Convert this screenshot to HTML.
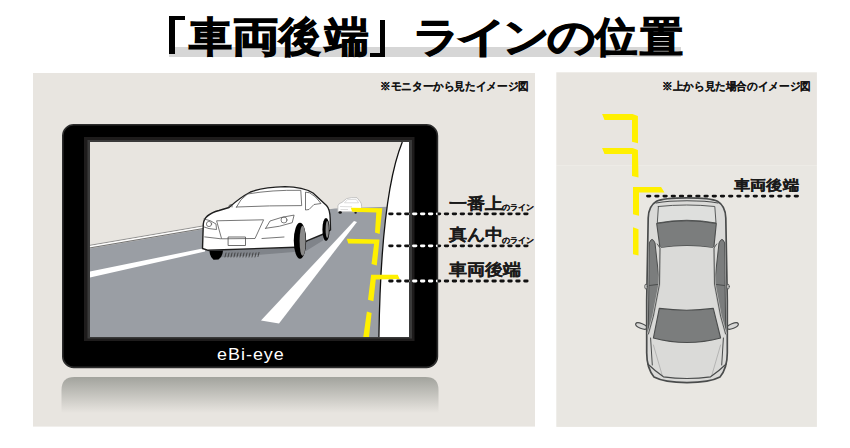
<!DOCTYPE html>
<html><head><meta charset="utf-8">
<style>
html,body{margin:0;padding:0;background:#fff;}
body{width:850px;height:448px;position:relative;overflow:hidden;font-family:"Liberation Sans",sans-serif;}
.t{position:absolute;white-space:nowrap;line-height:1;}
.tc{position:absolute;top:16.8px;font-size:41px;line-height:1;font-weight:bold;color:#000;-webkit-text-stroke:1.1px #000;transform-origin:0 0;white-space:nowrap;}
.bk{position:absolute;background:#000;}
#hl{position:absolute;left:169px;top:47px;width:512px;height:10px;background:#d6d6d6;}
.note{font-size:10.6px;font-weight:bold;color:#111;-webkit-text-stroke:0.05px #111;transform:scaleX(0.967);transform-origin:0 0;}
.lab{font-size:16px;font-weight:bold;color:#1a1a1a;-webkit-text-stroke:0.1px #1a1a1a;transform:scaleX(1.13);transform-origin:0 0;}
.lab2{font-size:14px;font-weight:bold;color:#1a1a1a;-webkit-text-stroke:0.2px #1a1a1a;transform:scaleX(1.155);transform-origin:0 0;}
.logo{font-size:16px;color:#fff;letter-spacing:0.9px;transform:scaleX(1.12);transform-origin:0 0;}
.sm{font-size:7.7px;font-weight:bold;color:#1a1a1a;-webkit-text-stroke:0.2px #1a1a1a;}
svg{position:absolute;left:0;top:0;}
</style></head><body>
<div id="hl"></div>
<div class="bk" style="left:169px;top:16.4px;width:6px;height:37.4px"></div>
<div class="bk" style="left:169px;top:16.4px;width:16px;height:4px"></div>
<div class="bk" style="left:379.7px;top:19.9px;width:5.8px;height:37px"></div>
<div class="bk" style="left:370.2px;top:52.6px;width:15.3px;height:4.4px"></div>
<div class="tc" style="left:189.4px;transform:scaleX(1.05)">車</div><div class="tc" style="left:231.8px;transform:scaleX(1.167)">両</div><div class="tc" style="left:278.8px;transform:scaleX(1.02)">後</div><div class="tc" style="left:325px;transform:scaleX(1.07)">端</div><div class="tc" style="left:412.9px;transform:scaleX(1.14)">ラ</div><div class="tc" style="left:456.1px;transform:scaleX(1.234)">イ</div><div class="tc" style="left:502.7px;transform:scaleX(1.118)">ン</div><div class="tc" style="left:546.5px;transform:scaleX(1.171)">の</div><div class="tc" style="left:594.8px;transform:scaleX(1.03)">位</div><div class="tc" style="left:639.8px;transform:scaleX(1.05)">置</div>
<svg width="850" height="448" viewBox="0 0 850 448">
<defs>
<linearGradient id="refl" x1="0" y1="0" x2="0" y2="1">
<stop offset="0" stop-color="#a2a39d"/>
<stop offset="1" stop-color="#e8e5e0"/>
</linearGradient>
</defs>
<rect x="33" y="73" width="502" height="353.6" fill="#e8e5e0"/>
<rect x="556.3" y="72.3" width="260.6" height="93.4" fill="#e8e5e0"/>
<rect x="556.3" y="165.7" width="260.6" height="261.2" fill="#e9e7e2"/>
<!-- reflection -->
<path d="M61.5,413 V390 Q61.5,377 74.5,377 H425.5 Q438.5,377 438.5,390 V413 Z" fill="url(#refl)"/>
<!-- monitor -->
<rect x="62.8" y="124.8" width="374.6" height="242.6" rx="11" fill="#000" stroke="#2c2c2c" stroke-width="1.6"/>
<rect x="84" y="137" width="330.5" height="204" fill="#1e1c1c"/>
<rect x="87.5" y="140" width="324.5" height="198.5" fill="#3a3a3a"/>
<rect x="90" y="142" width="319" height="195" fill="#e8e5e0"/>
<!-- road -->
<path d="M90,248.5 L201,229.5 Q290,214 335,208.5 L395,206.4 L409,206.4 V337 H90 Z" fill="#9a9ea4"/>
<path d="M90,245.3 L201,226.3 Q280,212.5 328,206.5" fill="none" stroke="#8a8a8a" stroke-width="0.9"/>
<path d="M90,246.6 L201,227.6 Q280,213.8 328,207.8" fill="none" stroke="#fff" stroke-width="1.1"/>
<path d="M90,247.9 L201,228.9 Q280,215.1 328,209.1" fill="none" stroke="#666" stroke-width="0.9"/>
<!-- lane lines -->
<path d="M90,271.5 L205,248 L205,251.5 L90,277.5 Z" fill="#fff"/>
<path d="M261,320.5 L279,323.5 L357,222 L354,221 Z" fill="#fff"/>
<!-- distant car -->
<g stroke-linejoin="round">
<path d="M337.8,211.8 L337.9,205.8 Q338.5,203.2 342,202.4 L346.5,198.6 Q351,197.2 357,197.7 L360.3,201.8 Q361.8,203.5 361.6,206.5 L361.4,211.8 Z" fill="#fff" stroke="#b8b8b8" stroke-width="0.8"/>
<path d="M344.5,202.8 L347.5,199.6 L356.2,199.4 L358.6,202.8 Z M340,206.5 L352,206.8 M340.5,209.5 H348" fill="none" stroke="#cfcfcf" stroke-width="0.7"/>
<ellipse cx="340.2" cy="212.5" rx="1.7" ry="1.3" fill="#111"/>
<ellipse cx="355.6" cy="212.8" rx="1.2" ry="1" fill="#222"/>
</g>
<!-- main car -->
<g stroke="#1e1e1e" stroke-linejoin="round" stroke-linecap="round">
<path d="M206,250 L296,246.5 L308,240.5 L323.5,234 L323,240.5 L306,251 L250,255.5 L218,257.5 Z" fill="#80848a" stroke="none"/>
<g stroke="#333" stroke-width="0.8">
<path d="M226,253 l-1,4 M229,253 l-1,4 M232,253 l-1,4 M235,253 l-1,4 M238,253 l-1,4 M241,253 l-1,4 M244,253 l-1,4 M247,253 l-1,4 M250,253 l-1,4 M253,253 l-1,4 M256,253 l-1,4 M259,252.5 l-1,4"/>
</g>
<path d="M209.5,251 L223,250.5 Q222.5,257 218.5,259.6 L213.5,259.7 Q210,257.5 209.5,251 Z" fill="#000" stroke="none"/>
<path d="M202.5,248.5 L203.3,224 Q204,214.5 219,210.5 L229,207.5 Q240,197.5 250.5,192 Q263,187.2 285,186.6 Q303,186.8 313,193 L326.5,205.5 Q330,209 330.2,219 L330.5,230 L323.5,234 L307.4,240.7 L295.5,247.3 L207.6,250.2 Z" fill="#fff" stroke-width="1.4"/>
<ellipse cx="326" cy="229.5" rx="3.6" ry="11.6" fill="#000" stroke="none"/>
<ellipse cx="327.2" cy="229.5" rx="1.6" ry="8.5" fill="#888" stroke="none"/>
<ellipse cx="300" cy="240.8" rx="6.2" ry="18" fill="#000" stroke="none"/>
<ellipse cx="302.6" cy="240.8" rx="3" ry="15" fill="#8a8a8a" stroke="none"/>
<g fill="none" stroke-width="0.75" stroke="#4a4a4a">
<path d="M236.5,207 Q240,199 247.5,194 Q272,189.8 300.8,190.3 L301.7,205.6 Q270,205.5 236.5,207 Z"/>
<path d="M305.5,192.5 L305.5,210 L309,209.5 L314,204.5 L321,203.5 Q316,196 310,193 Z"/>
<path d="M217,220.8 L263.6,219.8 L255,238.5 L222,238.8 Z" />
<path d="M228.5,237 h17 v8.5 h-17 Z" stroke-width="0.8"/>
<path d="M204,219 Q211,220 216,224 L216.5,229.5 Q208,229 204,227" />
<circle cx="209" cy="224" r="2.6" stroke-width="0.7"/>
<path d="M265.7,228.3 L270,221 Q282,216.5 294.1,215.1 L292.2,222.7 Q280,227 265.7,228.3 Z"/>
<circle cx="284" cy="220" r="3" stroke-width="0.7"/>
<path d="M204.7,236.9 L220.9,238.8 M262,238.5 L284,237"/>
<path d="M228.5,207 Q229,204 232,204.5 L232,207"/>
</g>
</g>
<!-- white side -->
<path d="M402.3,142 C388.9,174.9 380.4,236.2 378.9,337 H409 V142 Z" fill="#fff"/>
<path d="M402.3,142 C388.9,174.9 380.4,236.2 378.9,337" fill="none" stroke="#111" stroke-width="1.3"/>
<!-- yellow brackets screen -->
<g fill="#fff000">
<path d="M350.8,207.8 L382.3,208.3 L379.6,234 L375,232.6 L376.3,212.5 L352.2,211.8 Z"/>
<path d="M346.7,238.7 L379.5,239.6 L376.8,265.5 L371.5,264.1 L374.1,243.7 L348.3,243.4 Z"/>
<path d="M371.1,274.7 L397.7,274.7 L399.7,279 L375.8,279.4 L373.4,301.3 L368,299.7 Z"/>
<path d="M366.9,311.4 L371.6,313 L369,337 L363.3,337 Z"/>
</g>
<!-- right panel -->
<g fill="#fff000">
<path d="M602.1,114 L632.5,114 L637.9,116.1 L638,143.3 L632,141.7 L632,120 L604.5,119.9 Z"/>
<path d="M602.1,148 L632.5,148 L637.9,150.1 L638.5,177.6 L632,176 L632,154 L604.5,153.9 Z"/>
<path d="M633,187 L661.1,187 L664.5,192.5 L639,192.5 L639,215.8 L633,214.2 Z"/>
<path d="M633,227.2 L638.5,229.2 L638.5,255.5 L633,254.3 Z"/>
</g>
<path d="M647.5,196.1 H798" stroke="#111" stroke-width="2.9" stroke-linecap="round" stroke-dasharray="2.4 5.8" fill="none"/>
<!-- top view car -->
<g stroke="#4a4c4c" stroke-linejoin="round" stroke-linecap="round">
<ellipse cx="641.3" cy="326" rx="6" ry="2.4" transform="rotate(22 641.3 326)" fill="#d8d8d6" stroke-width="1.2"/>
<ellipse cx="732.7" cy="326" rx="6" ry="2.4" transform="rotate(-22 732.7 326)" fill="#d8d8d6" stroke-width="1.2"/>
<path d="M687,197.8 Q711,197.8 717.5,201.3 Q725.5,206 725.8,218 L727.3,300 L727.3,352 Q727.5,368 720,377 Q710,382.4 687,382.6 Q664,382.4 654,377 Q646.5,368 646.7,352 L646.7,300 L648.2,218 Q648.5,206 656.5,201.3 Q663,197.8 687,197.8 Z" fill="#dadad8" stroke-width="1.7"/>
<path d="M656,203 Q668,200.8 687,200.8 Q706,200.8 718,203" fill="none" stroke-width="1.1"/>
<path d="M658.4,206.5 L657.3,223 Q687,217.5 716,223 L714.8,206.5 Q687,203.5 658.4,206.5 Z" fill="#dedfdd" stroke-width="0.9"/>
<path d="M649.5,242.5 Q652,236 655,243 L659.5,284 L653.4,316 L648.4,333.4 Z" fill="#7b7d7d" stroke-width="1"/>
<path d="M724.5,242.5 Q722,236 719,243 L714.5,284 L720.6,316 L725.6,333.4 Z" fill="#7b7d7d" stroke-width="1"/>
<path d="M656.7,223.5 Q687,218 716.3,223.5 L713.8,248 Q687,243.8 660,248 Z" fill="#7b7d7d" stroke-width="1.1"/>
<path d="M660,248 Q687,243.8 713.8,248 L714.5,284 L713.1,308.4 Q687,312 660.1,308.4 L659.5,284 Z" fill="#dadad8" stroke="none"/>
<path d="M659.3,308.4 Q687,312 713.3,308.4 L720.6,338 Q687,347 653.4,338 Z" fill="#7b7d7d" stroke-width="1.1"/>
<path d="M660,248 L659.5,284 L653.4,316 L648.4,333.4 M714,248 L714.5,284 L720.6,316 L725.6,333.4" fill="none" stroke="#c8c8c6" stroke-width="2.2"/>
<path d="M657.3,244 L660,248 L659.5,284 L653.4,316 L648.4,334 M716.7,244 L714,248 L714.5,284 L720.6,316 L725.6,334" fill="none" stroke-width="0.9"/>
<path d="M649.5,285.5 L657.5,284.5 M724.5,285.5 L716.5,284.5" fill="none" stroke-width="1"/>
<ellipse cx="646" cy="286.6" rx="1.3" ry="2.5" fill="#d0d0ce" stroke-width="0.8"/>
<ellipse cx="728" cy="286.6" rx="1.3" ry="2.5" fill="#d0d0ce" stroke-width="0.8"/>
<path d="M650.6,338 L652.3,365 M723.4,338 L721.7,365" fill="none" stroke-width="1"/>
<path d="M653.4,345 L662.3,375.7 M720.6,345 L711.7,375.7" fill="none" stroke="#9a9a9a" stroke-width="0.6"/>
<path d="M647.8,364 Q655,371 663.4,376.8 Q675,378.5 687,378.5 Q699,378.5 710.6,376.8 Q719,371 726.2,364" fill="none" stroke-width="1.2"/>
</g>
<!-- dotted lines left -->
<defs><clipPath id="frameclip"><rect x="409" y="130" width="28.5" height="200"/></clipPath></defs>
<g stroke-linecap="round" stroke-width="2.8" fill="none" stroke-dasharray="2.6 5.34">
<g stroke="#111">
<path d="M389.6,213.8 H528"/>
<path d="M389.6,245.8 H528"/>
<path d="M389.6,281 H528"/>
</g>
<g stroke="#fff" clip-path="url(#frameclip)">
<path d="M389.6,213.8 H528"/>
<path d="M389.6,245.8 H528"/>
<path d="M389.6,281 H528"/>
</g>
</g>
</svg>
<div class="t note" style="left:380px;top:81px;">※モニターから見たイメージ図</div>
<div class="t note" style="left:662px;top:81px;">※上から見た場合のイメージ図</div>
<div class="t lab" style="left:449.2px;top:195.5px;">一番上</div>
<div class="t sm" style="left:502.2px;top:204px;">のライン</div>
<div class="t lab" style="left:449.2px;top:227px;">真ん中</div>
<div class="t sm" style="left:502.2px;top:236.5px;">のライン</div>
<div class="t lab" style="left:449.2px;top:261.5px;">車両後端</div>
<div class="t lab2" style="left:734px;top:177.5px;">車両後端</div>
<div class="t logo" style="left:216.5px;top:346.5px;">eBi-eye</div>
</body></html>
